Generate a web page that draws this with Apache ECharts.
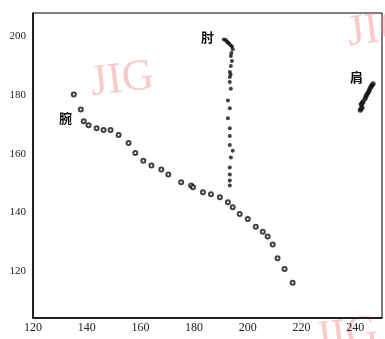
<!DOCTYPE html>
<html lang="zh">

<head>
    <meta charset="UTF-8">
    <title>关节轨迹</title>
    <style>
        html, body { margin: 0; padding: 0; background: #fff; }
        .div { width: 385px; height: 339px; }
    </style>
</head>

<body>
    <div class="div"></div>
    <script src="https://cdn.jsdelivr.net/npm/echarts@6/dist/echarts.min.js"></script>
    <script>
        // 腕 轨迹
        var wristX = [135.2, 137.8, 138.9, 140.7, 143.7, 146.3, 148.9, 151.9, 155.6, 158.1, 161.1, 164.1, 167.8, 170.4, 175.2, 178.9, 179.6, 183.3, 186.3, 189.6, 192.6, 194.4, 197.0, 200.0, 203.0, 205.6, 207.4, 209.3, 211.1, 213.7, 216.7]
        var wristY = [180.2, 175.1, 171.1, 169.7, 168.7, 168.1, 168.1, 166.4, 163.7, 160.3, 157.6, 156.0, 154.6, 152.9, 150.3, 149.2, 148.6, 146.9, 146.2, 145.2, 143.5, 141.8, 139.5, 137.8, 135.1, 133.4, 131.8, 129.1, 124.4, 120.7, 116.0]
        // 肘 轨迹
        var elbowX = [191.1, 191.8, 192.2, 192.6, 193.0, 193.6, 194.1, 194.4, 193.9, 193.7, 194.1, 193.7, 193.3, 193.6, 193.3, 193.3, 193.7, 192.6, 193.3, 192.6, 193.3, 193.3, 193.3, 194.4, 193.7, 193.3, 193.3, 193.3, 193.3]
        var elbowY = [199.0, 198.8, 198.3, 197.9, 197.6, 197.0, 196.6, 195.6, 194.4, 193.3, 191.6, 189.9, 187.9, 187.0, 186.2, 184.5, 182.2, 178.2, 175.5, 172.1, 168.7, 166.1, 163.0, 161.0, 158.7, 155.3, 152.9, 150.9, 149.2]
        // 肩 轨迹
        var shoulderX = [246.7, 246.3, 245.9, 245.5, 245.2, 244.8, 244.4, 244.0, 243.7, 243.0, 242.6, 242.2, 242.6, 242.2, 241.9]
        var shoulderY = [183.9, 183.4, 182.9, 182.2, 181.5, 180.8, 180.2, 179.5, 178.8, 177.8, 177.3, 176.8, 175.8, 175.3, 174.8]
        var xTicks = [120, 140, 160, 180, 200, 220, 240]
        var yTicks = [120, 140, 160, 180, 200]

        function pairs(xs, ys) {
            return xs.map(function (v, i) { return [v, ys[i]] })
        }

        var myecharts = echarts.init(document.getElementsByClassName('div')[0]);
        var serif = '"Liberation Serif", "DejaVu Serif", serif'
        var wm = { fill: 'rgba(245,120,120,0.4)', font: '44px "Liberation Serif", serif' }

        var option = {
            animation: false,
            grid: {
                left: 33, top: 13, right: 1, bottom: 21,
                show: true, borderColor: '#000', borderWidth: 1
            },
            xAxis: {
                type: 'value', min: 120, max: 250, interval: 10,
                splitLine: { show: false },
                axisLine: { lineStyle: { color: '#000', width: 1.5 } },
                axisTick: { show: false },
                axisLabel: {
                    color: '#222', fontFamily: serif, fontSize: 12, margin: 4,
                    formatter: function (v) { return xTicks.indexOf(v) >= 0 ? String(v) : '' }
                }
            },
            yAxis: {
                type: 'value', min: 104, max: 208, interval: 4,
                splitLine: { show: false },
                axisLine: { lineStyle: { color: '#000', width: 1.5 } },
                axisTick: { show: false },
                axisLabel: {
                    color: '#222', fontFamily: serif, fontSize: 11, margin: 7,
                    formatter: function (v) { return yTicks.indexOf(v) >= 0 ? String(v) : '' }
                }
            },
            series: [
                {
                    name: '腕', type: 'scatter', data: pairs(wristX, wristY),
                    symbol: 'emptyCircle', symbolSize: 4,
                    itemStyle: { color: '#111', borderWidth: 1.2 }
                },
                {
                    name: '肘', type: 'scatter', data: pairs(elbowX, elbowY),
                    symbol: 'circle', symbolSize: 4,
                    itemStyle: { color: '#111' }
                },
                {
                    name: '肩', type: 'scatter', data: pairs(shoulderX, shoulderY),
                    symbol: 'circle', symbolSize: 5,
                    itemStyle: { color: '#111' }
                }
            ],
            graphic: [
                { type: 'text', left: 59, top: 112, style: { text: '腕', fill: '#111', font: 'bold 13px "Noto Sans CJK SC"' } },
                { type: 'text', left: 201, top: 31, style: { text: '肘', fill: '#111', font: 'bold 13px "Noto Sans CJK SC"' } },
                { type: 'text', left: 350, top: 71, style: { text: '肩', fill: '#111', font: 'bold 13px "Noto Sans CJK SC"' } },
                { type: 'text', x: 88, y: 62, rotation: 0.12, style: Object.assign({ text: 'JIG' }, wm) },
                { type: 'text', x: 345, y: 12, rotation: 0.12, style: Object.assign({ text: 'JIG' }, wm) },
                { type: 'text', x: 312, y: 318, rotation: 0.12, style: Object.assign({ text: 'JIG' }, wm) }
            ]
        }
        myecharts.setOption(option);
    </script>
</body>

</html>
